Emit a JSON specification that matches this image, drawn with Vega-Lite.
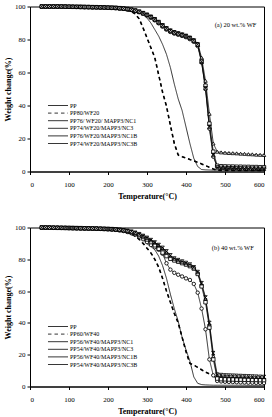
{
  "$schema": "https://vega.github.io/schema/vega-lite/v6.json",
  "padding": {"left": 4, "top": 1.5, "right": 4, "bottom": 0},
  "spacing": 21,
  "config": {
    "font": "Liberation Serif",
    "view": {"stroke": "black", "strokeWidth": 1},
    "axis": {
      "labelFont": "Liberation Serif", "labelFontSize": 7, "labelColor": "black",
      "titleFont": "Liberation Serif", "titleFontSize": 8, "titleFontWeight": "bold", "titleColor": "black",
      "domainColor": "black", "tickColor": "black", "tickSize": 3, "grid": false
    },
    "axisX": {"labelPadding": 6, "titlePadding": 5},
    "axisY": {"labelPadding": 2, "titlePadding": 2}
  },
  "datasets": {
    "wf20": [
      {"temp": 30, "PP": 100, "PP80/WF20": 100, "PP76/ WF20/ MAPP3/NC1": 100, "PP74/WF20/MAPP3/NC3": 100, "PP76/WF20/MAPP3/NC1B": 100, "PP74/WF20/MAPP3/NC3B": 100},
      {"temp": 40, "PP": 100, "PP80/WF20": 100, "PP76/ WF20/ MAPP3/NC1": 100, "PP74/WF20/MAPP3/NC3": 100, "PP76/WF20/MAPP3/NC1B": 100, "PP74/WF20/MAPP3/NC3B": 100},
      {"temp": 50, "PP": 100, "PP80/WF20": 100, "PP76/ WF20/ MAPP3/NC1": 100, "PP74/WF20/MAPP3/NC3": 100, "PP76/WF20/MAPP3/NC1B": 100, "PP74/WF20/MAPP3/NC3B": 100},
      {"temp": 60, "PP": 100, "PP80/WF20": 100, "PP76/ WF20/ MAPP3/NC1": 100, "PP74/WF20/MAPP3/NC3": 100, "PP76/WF20/MAPP3/NC1B": 100, "PP74/WF20/MAPP3/NC3B": 100},
      {"temp": 70, "PP": 100, "PP80/WF20": 100, "PP76/ WF20/ MAPP3/NC1": 100, "PP74/WF20/MAPP3/NC3": 100, "PP76/WF20/MAPP3/NC1B": 100, "PP74/WF20/MAPP3/NC3B": 100},
      {"temp": 80, "PP": 100, "PP80/WF20": 100, "PP76/ WF20/ MAPP3/NC1": 99.9, "PP74/WF20/MAPP3/NC3": 100, "PP76/WF20/MAPP3/NC1B": 100, "PP74/WF20/MAPP3/NC3B": 100},
      {"temp": 90, "PP": 100, "PP80/WF20": 100, "PP76/ WF20/ MAPP3/NC1": 99.9, "PP74/WF20/MAPP3/NC3": 100, "PP76/WF20/MAPP3/NC1B": 99.9, "PP74/WF20/MAPP3/NC3B": 100},
      {"temp": 100, "PP": 100, "PP80/WF20": 100, "PP76/ WF20/ MAPP3/NC1": 99.8, "PP74/WF20/MAPP3/NC3": 99.9, "PP76/WF20/MAPP3/NC1B": 99.9, "PP74/WF20/MAPP3/NC3B": 99.9},
      {"temp": 110, "PP": 100, "PP80/WF20": 100, "PP76/ WF20/ MAPP3/NC1": 99.8, "PP74/WF20/MAPP3/NC3": 99.9, "PP76/WF20/MAPP3/NC1B": 99.8, "PP74/WF20/MAPP3/NC3B": 99.9},
      {"temp": 120, "PP": 100, "PP80/WF20": 99.9, "PP76/ WF20/ MAPP3/NC1": 99.7, "PP74/WF20/MAPP3/NC3": 99.8, "PP76/WF20/MAPP3/NC1B": 99.8, "PP74/WF20/MAPP3/NC3B": 99.8},
      {"temp": 130, "PP": 100, "PP80/WF20": 99.9, "PP76/ WF20/ MAPP3/NC1": 99.7, "PP74/WF20/MAPP3/NC3": 99.8, "PP76/WF20/MAPP3/NC1B": 99.7, "PP74/WF20/MAPP3/NC3B": 99.8},
      {"temp": 140, "PP": 99.9, "PP80/WF20": 99.8, "PP76/ WF20/ MAPP3/NC1": 99.6, "PP74/WF20/MAPP3/NC3": 99.7, "PP76/WF20/MAPP3/NC1B": 99.7, "PP74/WF20/MAPP3/NC3B": 99.7},
      {"temp": 150, "PP": 99.9, "PP80/WF20": 99.8, "PP76/ WF20/ MAPP3/NC1": 99.6, "PP74/WF20/MAPP3/NC3": 99.7, "PP76/WF20/MAPP3/NC1B": 99.6, "PP74/WF20/MAPP3/NC3B": 99.7},
      {"temp": 160, "PP": 99.9, "PP80/WF20": 99.7, "PP76/ WF20/ MAPP3/NC1": 99.5, "PP74/WF20/MAPP3/NC3": 99.6, "PP76/WF20/MAPP3/NC1B": 99.6, "PP74/WF20/MAPP3/NC3B": 99.6},
      {"temp": 170, "PP": 99.8, "PP80/WF20": 99.7, "PP76/ WF20/ MAPP3/NC1": 99.5, "PP74/WF20/MAPP3/NC3": 99.6, "PP76/WF20/MAPP3/NC1B": 99.5, "PP74/WF20/MAPP3/NC3B": 99.6},
      {"temp": 180, "PP": 99.8, "PP80/WF20": 99.6, "PP76/ WF20/ MAPP3/NC1": 99.4, "PP74/WF20/MAPP3/NC3": 99.5, "PP76/WF20/MAPP3/NC1B": 99.5, "PP74/WF20/MAPP3/NC3B": 99.5},
      {"temp": 190, "PP": 99.8, "PP80/WF20": 99.5, "PP76/ WF20/ MAPP3/NC1": 99.3, "PP74/WF20/MAPP3/NC3": 99.5, "PP76/WF20/MAPP3/NC1B": 99.4, "PP74/WF20/MAPP3/NC3B": 99.5},
      {"temp": 200, "PP": 99.7, "PP80/WF20": 99.4, "PP76/ WF20/ MAPP3/NC1": 99.2, "PP74/WF20/MAPP3/NC3": 99.4, "PP76/WF20/MAPP3/NC1B": 99.3, "PP74/WF20/MAPP3/NC3B": 99.4},
      {"temp": 210, "PP": 99.6, "PP80/WF20": 99.2, "PP76/ WF20/ MAPP3/NC1": 99.1, "PP74/WF20/MAPP3/NC3": 99.3, "PP76/WF20/MAPP3/NC1B": 99.2, "PP74/WF20/MAPP3/NC3B": 99.3},
      {"temp": 220, "PP": 99.5, "PP80/WF20": 99, "PP76/ WF20/ MAPP3/NC1": 99, "PP74/WF20/MAPP3/NC3": 99.2, "PP76/WF20/MAPP3/NC1B": 99.1, "PP74/WF20/MAPP3/NC3B": 99.2},
      {"temp": 230, "PP": 99.4, "PP80/WF20": 98.7, "PP76/ WF20/ MAPP3/NC1": 98.8, "PP74/WF20/MAPP3/NC3": 99, "PP76/WF20/MAPP3/NC1B": 98.9, "PP74/WF20/MAPP3/NC3B": 99},
      {"temp": 240, "PP": 99.2, "PP80/WF20": 98.3, "PP76/ WF20/ MAPP3/NC1": 98.6, "PP74/WF20/MAPP3/NC3": 98.8, "PP76/WF20/MAPP3/NC1B": 98.7, "PP74/WF20/MAPP3/NC3B": 98.8},
      {"temp": 250, "PP": 99, "PP80/WF20": 97.6, "PP76/ WF20/ MAPP3/NC1": 98.3, "PP74/WF20/MAPP3/NC3": 98.5, "PP76/WF20/MAPP3/NC1B": 98.4, "PP74/WF20/MAPP3/NC3B": 98.5},
      {"temp": 260, "PP": 98.5, "PP80/WF20": 96.8, "PP76/ WF20/ MAPP3/NC1": 97.9, "PP74/WF20/MAPP3/NC3": 98.1, "PP76/WF20/MAPP3/NC1B": 98, "PP74/WF20/MAPP3/NC3B": 98.1},
      {"temp": 270, "PP": 97.8, "PP80/WF20": 95.5, "PP76/ WF20/ MAPP3/NC1": 97.3, "PP74/WF20/MAPP3/NC3": 97.6, "PP76/WF20/MAPP3/NC1B": 97.4, "PP74/WF20/MAPP3/NC3B": 97.6},
      {"temp": 280, "PP": 96.8, "PP80/WF20": 92.5, "PP76/ WF20/ MAPP3/NC1": 96.6, "PP74/WF20/MAPP3/NC3": 96.9, "PP76/WF20/MAPP3/NC1B": 96.7, "PP74/WF20/MAPP3/NC3B": 96.9},
      {"temp": 290, "PP": 95.2, "PP80/WF20": 87, "PP76/ WF20/ MAPP3/NC1": 95.7, "PP74/WF20/MAPP3/NC3": 96.1, "PP76/WF20/MAPP3/NC1B": 95.8, "PP74/WF20/MAPP3/NC3B": 96},
      {"temp": 300, "PP": 93, "PP80/WF20": 81, "PP76/ WF20/ MAPP3/NC1": 94.6, "PP74/WF20/MAPP3/NC3": 95.2, "PP76/WF20/MAPP3/NC1B": 94.8, "PP74/WF20/MAPP3/NC3B": 95},
      {"temp": 310, "PP": 90, "PP80/WF20": 75, "PP76/ WF20/ MAPP3/NC1": 93.2, "PP74/WF20/MAPP3/NC3": 94, "PP76/WF20/MAPP3/NC1B": 93.5, "PP74/WF20/MAPP3/NC3B": 93.8},
      {"temp": 320, "PP": 86, "PP80/WF20": 69, "PP76/ WF20/ MAPP3/NC1": 91.6, "PP74/WF20/MAPP3/NC3": 92.5, "PP76/WF20/MAPP3/NC1B": 92, "PP74/WF20/MAPP3/NC3B": 92.3},
      {"temp": 330, "PP": 82, "PP80/WF20": 58.5, "PP76/ WF20/ MAPP3/NC1": 89.8, "PP74/WF20/MAPP3/NC3": 90.8, "PP76/WF20/MAPP3/NC1B": 90.2, "PP74/WF20/MAPP3/NC3B": 90.6},
      {"temp": 340, "PP": 77, "PP80/WF20": 48, "PP76/ WF20/ MAPP3/NC1": 87.8, "PP74/WF20/MAPP3/NC3": 88.8, "PP76/WF20/MAPP3/NC1B": 88.2, "PP74/WF20/MAPP3/NC3B": 88.6},
      {"temp": 350, "PP": 71, "PP80/WF20": 39.5, "PP76/ WF20/ MAPP3/NC1": 86, "PP74/WF20/MAPP3/NC3": 87, "PP76/WF20/MAPP3/NC1B": 86.4, "PP74/WF20/MAPP3/NC3B": 86.8},
      {"temp": 360, "PP": 63, "PP80/WF20": 28, "PP76/ WF20/ MAPP3/NC1": 84.6, "PP74/WF20/MAPP3/NC3": 85.6, "PP76/WF20/MAPP3/NC1B": 85, "PP74/WF20/MAPP3/NC3B": 85.4},
      {"temp": 370, "PP": 53, "PP80/WF20": 17, "PP76/ WF20/ MAPP3/NC1": 83.6, "PP74/WF20/MAPP3/NC3": 84.6, "PP76/WF20/MAPP3/NC1B": 84, "PP74/WF20/MAPP3/NC3B": 84.4},
      {"temp": 380, "PP": 44, "PP80/WF20": 10, "PP76/ WF20/ MAPP3/NC1": 82.9, "PP74/WF20/MAPP3/NC3": 83.9, "PP76/WF20/MAPP3/NC1B": 83.3, "PP74/WF20/MAPP3/NC3B": 83.7},
      {"temp": 390, "PP": 37, "PP80/WF20": 9, "PP76/ WF20/ MAPP3/NC1": 82.2, "PP74/WF20/MAPP3/NC3": 83.2, "PP76/WF20/MAPP3/NC1B": 82.6, "PP74/WF20/MAPP3/NC3B": 83},
      {"temp": 400, "PP": 27, "PP80/WF20": 8.2, "PP76/ WF20/ MAPP3/NC1": 81.4, "PP74/WF20/MAPP3/NC3": 82.4, "PP76/WF20/MAPP3/NC1B": 81.8, "PP74/WF20/MAPP3/NC3B": 82.2},
      {"temp": 410, "PP": 17, "PP80/WF20": 7.3, "PP76/ WF20/ MAPP3/NC1": 80.2, "PP74/WF20/MAPP3/NC3": 81.3, "PP76/WF20/MAPP3/NC1B": 80.7, "PP74/WF20/MAPP3/NC3B": 81},
      {"temp": 420, "PP": 8, "PP80/WF20": 6.5, "PP76/ WF20/ MAPP3/NC1": 78.6, "PP74/WF20/MAPP3/NC3": 79.8, "PP76/WF20/MAPP3/NC1B": 79.1, "PP74/WF20/MAPP3/NC3B": 79.4},
      {"temp": 430, "PP": 3, "PP80/WF20": 5.6, "PP76/ WF20/ MAPP3/NC1": 76, "PP74/WF20/MAPP3/NC3": 77.6, "PP76/WF20/MAPP3/NC1B": 76.8, "PP74/WF20/MAPP3/NC3B": 77},
      {"temp": 440, "PP": 1.2, "PP80/WF20": 4.6, "PP76/ WF20/ MAPP3/NC1": 66, "PP74/WF20/MAPP3/NC3": 69, "PP76/WF20/MAPP3/NC1B": 67, "PP74/WF20/MAPP3/NC3B": 66.5},
      {"temp": 450, "PP": 1, "PP80/WF20": 3.6, "PP76/ WF20/ MAPP3/NC1": 50, "PP74/WF20/MAPP3/NC3": 55, "PP76/WF20/MAPP3/NC1B": 52, "PP74/WF20/MAPP3/NC3B": 50.5},
      {"temp": 460, "PP": 0.9, "PP80/WF20": 2.5, "PP76/ WF20/ MAPP3/NC1": 26, "PP74/WF20/MAPP3/NC3": 35, "PP76/WF20/MAPP3/NC1B": 29, "PP74/WF20/MAPP3/NC3B": 27},
      {"temp": 470, "PP": 0.8, "PP80/WF20": 1.5, "PP76/ WF20/ MAPP3/NC1": 9, "PP74/WF20/MAPP3/NC3": 17, "PP76/WF20/MAPP3/NC1B": 12, "PP74/WF20/MAPP3/NC3B": 10},
      {"temp": 480, "PP": 0.8, "PP80/WF20": 0.8, "PP76/ WF20/ MAPP3/NC1": 3, "PP74/WF20/MAPP3/NC3": 12, "PP76/WF20/MAPP3/NC1B": 3.5, "PP74/WF20/MAPP3/NC3B": 2.5},
      {"temp": 490, "PP": 0.8, "PP80/WF20": 0.7, "PP76/ WF20/ MAPP3/NC1": 2.6, "PP74/WF20/MAPP3/NC3": 11.6, "PP76/WF20/MAPP3/NC1B": 3.2, "PP74/WF20/MAPP3/NC3B": 2.2},
      {"temp": 500, "PP": 0.8, "PP80/WF20": 0.7, "PP76/ WF20/ MAPP3/NC1": 2.5, "PP74/WF20/MAPP3/NC3": 11.4, "PP76/WF20/MAPP3/NC1B": 3.1, "PP74/WF20/MAPP3/NC3B": 2.1},
      {"temp": 510, "PP": 0.8, "PP80/WF20": 0.6, "PP76/ WF20/ MAPP3/NC1": 2.4, "PP74/WF20/MAPP3/NC3": 11.2, "PP76/WF20/MAPP3/NC1B": 3, "PP74/WF20/MAPP3/NC3B": 2},
      {"temp": 520, "PP": 0.8, "PP80/WF20": 0.6, "PP76/ WF20/ MAPP3/NC1": 2.4, "PP74/WF20/MAPP3/NC3": 11.1, "PP76/WF20/MAPP3/NC1B": 3, "PP74/WF20/MAPP3/NC3B": 2},
      {"temp": 530, "PP": 0.8, "PP80/WF20": 0.6, "PP76/ WF20/ MAPP3/NC1": 2.3, "PP74/WF20/MAPP3/NC3": 11, "PP76/WF20/MAPP3/NC1B": 2.9, "PP74/WF20/MAPP3/NC3B": 1.9},
      {"temp": 540, "PP": 0.8, "PP80/WF20": 0.6, "PP76/ WF20/ MAPP3/NC1": 2.3, "PP74/WF20/MAPP3/NC3": 10.8, "PP76/WF20/MAPP3/NC1B": 2.9, "PP74/WF20/MAPP3/NC3B": 1.9},
      {"temp": 550, "PP": 0.8, "PP80/WF20": 0.6, "PP76/ WF20/ MAPP3/NC1": 2.2, "PP74/WF20/MAPP3/NC3": 10.7, "PP76/WF20/MAPP3/NC1B": 2.8, "PP74/WF20/MAPP3/NC3B": 1.8},
      {"temp": 560, "PP": 0.8, "PP80/WF20": 0.6, "PP76/ WF20/ MAPP3/NC1": 2.2, "PP74/WF20/MAPP3/NC3": 10.5, "PP76/WF20/MAPP3/NC1B": 2.8, "PP74/WF20/MAPP3/NC3B": 1.8},
      {"temp": 570, "PP": 0.8, "PP80/WF20": 0.6, "PP76/ WF20/ MAPP3/NC1": 2.1, "PP74/WF20/MAPP3/NC3": 10.4, "PP76/WF20/MAPP3/NC1B": 2.7, "PP74/WF20/MAPP3/NC3B": 1.7},
      {"temp": 580, "PP": 0.8, "PP80/WF20": 0.6, "PP76/ WF20/ MAPP3/NC1": 2.1, "PP74/WF20/MAPP3/NC3": 10.2, "PP76/WF20/MAPP3/NC1B": 2.7, "PP74/WF20/MAPP3/NC3B": 1.7},
      {"temp": 590, "PP": 0.8, "PP80/WF20": 0.6, "PP76/ WF20/ MAPP3/NC1": 2, "PP74/WF20/MAPP3/NC3": 10.1, "PP76/WF20/MAPP3/NC1B": 2.6, "PP74/WF20/MAPP3/NC3B": 1.6},
      {"temp": 600, "PP": 0.8, "PP80/WF20": 0.6, "PP76/ WF20/ MAPP3/NC1": 2, "PP74/WF20/MAPP3/NC3": 10, "PP76/WF20/MAPP3/NC1B": 2.6, "PP74/WF20/MAPP3/NC3B": 1.6}
    ],
    "wf40": [
      {"temp": 30, "PP": 100, "PP60/WF40": 100, "PP56/WF40/MAPP3/NC1": 100, "PP54/WF40/MAPP3/NC3": 100, "PP56/WF40/MAPP3/NC1B": 100, "PP54/WF40/MAPP3/NC3B": 100},
      {"temp": 40, "PP": 100, "PP60/WF40": 100, "PP56/WF40/MAPP3/NC1": 99.9, "PP54/WF40/MAPP3/NC3": 100, "PP56/WF40/MAPP3/NC1B": 100, "PP54/WF40/MAPP3/NC3B": 100},
      {"temp": 50, "PP": 100, "PP60/WF40": 99.9, "PP56/WF40/MAPP3/NC1": 99.9, "PP54/WF40/MAPP3/NC3": 99.9, "PP56/WF40/MAPP3/NC1B": 99.9, "PP54/WF40/MAPP3/NC3B": 100},
      {"temp": 60, "PP": 100, "PP60/WF40": 99.9, "PP56/WF40/MAPP3/NC1": 99.8, "PP54/WF40/MAPP3/NC3": 99.9, "PP56/WF40/MAPP3/NC1B": 99.9, "PP54/WF40/MAPP3/NC3B": 99.9},
      {"temp": 70, "PP": 100, "PP60/WF40": 99.8, "PP56/WF40/MAPP3/NC1": 99.8, "PP54/WF40/MAPP3/NC3": 99.8, "PP56/WF40/MAPP3/NC1B": 99.8, "PP54/WF40/MAPP3/NC3B": 99.9},
      {"temp": 80, "PP": 99.9, "PP60/WF40": 99.8, "PP56/WF40/MAPP3/NC1": 99.7, "PP54/WF40/MAPP3/NC3": 99.8, "PP56/WF40/MAPP3/NC1B": 99.8, "PP54/WF40/MAPP3/NC3B": 99.8},
      {"temp": 90, "PP": 99.9, "PP60/WF40": 99.7, "PP56/WF40/MAPP3/NC1": 99.7, "PP54/WF40/MAPP3/NC3": 99.7, "PP56/WF40/MAPP3/NC1B": 99.7, "PP54/WF40/MAPP3/NC3B": 99.8},
      {"temp": 100, "PP": 99.9, "PP60/WF40": 99.7, "PP56/WF40/MAPP3/NC1": 99.6, "PP54/WF40/MAPP3/NC3": 99.7, "PP56/WF40/MAPP3/NC1B": 99.7, "PP54/WF40/MAPP3/NC3B": 99.7},
      {"temp": 110, "PP": 99.9, "PP60/WF40": 99.6, "PP56/WF40/MAPP3/NC1": 99.6, "PP54/WF40/MAPP3/NC3": 99.6, "PP56/WF40/MAPP3/NC1B": 99.6, "PP54/WF40/MAPP3/NC3B": 99.7},
      {"temp": 120, "PP": 99.8, "PP60/WF40": 99.6, "PP56/WF40/MAPP3/NC1": 99.5, "PP54/WF40/MAPP3/NC3": 99.6, "PP56/WF40/MAPP3/NC1B": 99.6, "PP54/WF40/MAPP3/NC3B": 99.6},
      {"temp": 130, "PP": 99.8, "PP60/WF40": 99.5, "PP56/WF40/MAPP3/NC1": 99.5, "PP54/WF40/MAPP3/NC3": 99.5, "PP56/WF40/MAPP3/NC1B": 99.5, "PP54/WF40/MAPP3/NC3B": 99.6},
      {"temp": 140, "PP": 99.8, "PP60/WF40": 99.5, "PP56/WF40/MAPP3/NC1": 99.4, "PP54/WF40/MAPP3/NC3": 99.5, "PP56/WF40/MAPP3/NC1B": 99.5, "PP54/WF40/MAPP3/NC3B": 99.5},
      {"temp": 150, "PP": 99.7, "PP60/WF40": 99.4, "PP56/WF40/MAPP3/NC1": 99.4, "PP54/WF40/MAPP3/NC3": 99.4, "PP56/WF40/MAPP3/NC1B": 99.4, "PP54/WF40/MAPP3/NC3B": 99.5},
      {"temp": 160, "PP": 99.7, "PP60/WF40": 99.3, "PP56/WF40/MAPP3/NC1": 99.3, "PP54/WF40/MAPP3/NC3": 99.4, "PP56/WF40/MAPP3/NC1B": 99.4, "PP54/WF40/MAPP3/NC3B": 99.4},
      {"temp": 170, "PP": 99.6, "PP60/WF40": 99.2, "PP56/WF40/MAPP3/NC1": 99.2, "PP54/WF40/MAPP3/NC3": 99.3, "PP56/WF40/MAPP3/NC1B": 99.3, "PP54/WF40/MAPP3/NC3B": 99.4},
      {"temp": 180, "PP": 99.6, "PP60/WF40": 99.1, "PP56/WF40/MAPP3/NC1": 99.1, "PP54/WF40/MAPP3/NC3": 99.3, "PP56/WF40/MAPP3/NC1B": 99.2, "PP54/WF40/MAPP3/NC3B": 99.3},
      {"temp": 190, "PP": 99.5, "PP60/WF40": 99, "PP56/WF40/MAPP3/NC1": 99, "PP54/WF40/MAPP3/NC3": 99.2, "PP56/WF40/MAPP3/NC1B": 99.1, "PP54/WF40/MAPP3/NC3B": 99.2},
      {"temp": 200, "PP": 99.4, "PP60/WF40": 98.8, "PP56/WF40/MAPP3/NC1": 98.9, "PP54/WF40/MAPP3/NC3": 99.1, "PP56/WF40/MAPP3/NC1B": 99, "PP54/WF40/MAPP3/NC3B": 99.1},
      {"temp": 210, "PP": 99.3, "PP60/WF40": 98.6, "PP56/WF40/MAPP3/NC1": 98.7, "PP54/WF40/MAPP3/NC3": 99, "PP56/WF40/MAPP3/NC1B": 98.9, "PP54/WF40/MAPP3/NC3B": 99},
      {"temp": 220, "PP": 99.1, "PP60/WF40": 98.3, "PP56/WF40/MAPP3/NC1": 98.5, "PP54/WF40/MAPP3/NC3": 98.8, "PP56/WF40/MAPP3/NC1B": 98.7, "PP54/WF40/MAPP3/NC3B": 98.8},
      {"temp": 230, "PP": 98.9, "PP60/WF40": 97.9, "PP56/WF40/MAPP3/NC1": 98.2, "PP54/WF40/MAPP3/NC3": 98.6, "PP56/WF40/MAPP3/NC1B": 98.4, "PP54/WF40/MAPP3/NC3B": 98.6},
      {"temp": 240, "PP": 98.6, "PP60/WF40": 97.4, "PP56/WF40/MAPP3/NC1": 97.8, "PP54/WF40/MAPP3/NC3": 98.3, "PP56/WF40/MAPP3/NC1B": 98.1, "PP54/WF40/MAPP3/NC3B": 98.3},
      {"temp": 250, "PP": 98.2, "PP60/WF40": 96.7, "PP56/WF40/MAPP3/NC1": 97.2, "PP54/WF40/MAPP3/NC3": 97.9, "PP56/WF40/MAPP3/NC1B": 97.6, "PP54/WF40/MAPP3/NC3B": 97.9},
      {"temp": 260, "PP": 97.4, "PP60/WF40": 95.8, "PP56/WF40/MAPP3/NC1": 96.4, "PP54/WF40/MAPP3/NC3": 97.3, "PP56/WF40/MAPP3/NC1B": 97, "PP54/WF40/MAPP3/NC3B": 97.4},
      {"temp": 270, "PP": 96.2, "PP60/WF40": 94.5, "PP56/WF40/MAPP3/NC1": 95.4, "PP54/WF40/MAPP3/NC3": 96.6, "PP56/WF40/MAPP3/NC1B": 96.2, "PP54/WF40/MAPP3/NC3B": 96.7},
      {"temp": 280, "PP": 94.6, "PP60/WF40": 92.5, "PP56/WF40/MAPP3/NC1": 94.2, "PP54/WF40/MAPP3/NC3": 95.7, "PP56/WF40/MAPP3/NC1B": 95.2, "PP54/WF40/MAPP3/NC3B": 95.8},
      {"temp": 290, "PP": 92.4, "PP60/WF40": 90, "PP56/WF40/MAPP3/NC1": 92.6, "PP54/WF40/MAPP3/NC3": 94.6, "PP56/WF40/MAPP3/NC1B": 94, "PP54/WF40/MAPP3/NC3B": 94.7},
      {"temp": 300, "PP": 89.8, "PP60/WF40": 87, "PP56/WF40/MAPP3/NC1": 90.8, "PP54/WF40/MAPP3/NC3": 93.4, "PP56/WF40/MAPP3/NC1B": 92.5, "PP54/WF40/MAPP3/NC3B": 93.5},
      {"temp": 310, "PP": 88, "PP60/WF40": 84, "PP56/WF40/MAPP3/NC1": 89, "PP54/WF40/MAPP3/NC3": 92, "PP56/WF40/MAPP3/NC1B": 90.8, "PP54/WF40/MAPP3/NC3B": 92.1},
      {"temp": 320, "PP": 86, "PP60/WF40": 80, "PP56/WF40/MAPP3/NC1": 87.6, "PP54/WF40/MAPP3/NC3": 90.4, "PP56/WF40/MAPP3/NC1B": 88.8, "PP54/WF40/MAPP3/NC3B": 90.6},
      {"temp": 330, "PP": 82, "PP60/WF40": 75, "PP56/WF40/MAPP3/NC1": 86, "PP54/WF40/MAPP3/NC3": 88.8, "PP56/WF40/MAPP3/NC1B": 86.6, "PP54/WF40/MAPP3/NC3B": 89},
      {"temp": 340, "PP": 76, "PP60/WF40": 68, "PP56/WF40/MAPP3/NC1": 83.5, "PP54/WF40/MAPP3/NC3": 86.8, "PP56/WF40/MAPP3/NC1B": 84.2, "PP54/WF40/MAPP3/NC3B": 87.2},
      {"temp": 350, "PP": 68, "PP60/WF40": 60, "PP56/WF40/MAPP3/NC1": 77.5, "PP54/WF40/MAPP3/NC3": 84.3, "PP56/WF40/MAPP3/NC1B": 82, "PP54/WF40/MAPP3/NC3B": 85},
      {"temp": 360, "PP": 58, "PP60/WF40": 53, "PP56/WF40/MAPP3/NC1": 73.5, "PP54/WF40/MAPP3/NC3": 81.5, "PP56/WF40/MAPP3/NC1B": 80.3, "PP54/WF40/MAPP3/NC3B": 82.5},
      {"temp": 370, "PP": 49, "PP60/WF40": 46, "PP56/WF40/MAPP3/NC1": 71.5, "PP54/WF40/MAPP3/NC3": 80, "PP56/WF40/MAPP3/NC1B": 79.3, "PP54/WF40/MAPP3/NC3B": 80.5},
      {"temp": 380, "PP": 41, "PP60/WF40": 40, "PP56/WF40/MAPP3/NC1": 70.3, "PP54/WF40/MAPP3/NC3": 79, "PP56/WF40/MAPP3/NC1B": 78.5, "PP54/WF40/MAPP3/NC3B": 79.5},
      {"temp": 390, "PP": 31, "PP60/WF40": 31, "PP56/WF40/MAPP3/NC1": 69.2, "PP54/WF40/MAPP3/NC3": 78, "PP56/WF40/MAPP3/NC1B": 77.6, "PP54/WF40/MAPP3/NC3B": 78.6},
      {"temp": 400, "PP": 23, "PP60/WF40": 22, "PP56/WF40/MAPP3/NC1": 68, "PP54/WF40/MAPP3/NC3": 77, "PP56/WF40/MAPP3/NC1B": 76.7, "PP54/WF40/MAPP3/NC3B": 77.7},
      {"temp": 410, "PP": 16, "PP60/WF40": 14.5, "PP56/WF40/MAPP3/NC1": 67, "PP54/WF40/MAPP3/NC3": 76, "PP56/WF40/MAPP3/NC1B": 75.7, "PP54/WF40/MAPP3/NC3B": 76.7},
      {"temp": 420, "PP": 6, "PP60/WF40": 13.5, "PP56/WF40/MAPP3/NC1": 64.5, "PP54/WF40/MAPP3/NC3": 74.5, "PP56/WF40/MAPP3/NC1B": 74.2, "PP54/WF40/MAPP3/NC3B": 75},
      {"temp": 430, "PP": 2, "PP60/WF40": 12, "PP56/WF40/MAPP3/NC1": 59, "PP54/WF40/MAPP3/NC3": 71.5, "PP56/WF40/MAPP3/NC1B": 70.8, "PP54/WF40/MAPP3/NC3B": 72},
      {"temp": 440, "PP": 1.2, "PP60/WF40": 10.5, "PP56/WF40/MAPP3/NC1": 49, "PP54/WF40/MAPP3/NC3": 64, "PP56/WF40/MAPP3/NC1B": 63, "PP54/WF40/MAPP3/NC3B": 65},
      {"temp": 450, "PP": 1, "PP60/WF40": 9, "PP56/WF40/MAPP3/NC1": 36, "PP54/WF40/MAPP3/NC3": 55, "PP56/WF40/MAPP3/NC1B": 53, "PP54/WF40/MAPP3/NC3B": 56},
      {"temp": 460, "PP": 0.9, "PP60/WF40": 8, "PP56/WF40/MAPP3/NC1": 17, "PP54/WF40/MAPP3/NC3": 39, "PP56/WF40/MAPP3/NC1B": 37, "PP54/WF40/MAPP3/NC3B": 40},
      {"temp": 470, "PP": 0.8, "PP60/WF40": 6.8, "PP56/WF40/MAPP3/NC1": 7, "PP54/WF40/MAPP3/NC3": 19, "PP56/WF40/MAPP3/NC1B": 17, "PP54/WF40/MAPP3/NC3B": 21},
      {"temp": 480, "PP": 0.8, "PP60/WF40": 5.8, "PP56/WF40/MAPP3/NC1": 3.5, "PP54/WF40/MAPP3/NC3": 6, "PP56/WF40/MAPP3/NC1B": 5, "PP54/WF40/MAPP3/NC3B": 7.5},
      {"temp": 490, "PP": 0.8, "PP60/WF40": 5.2, "PP56/WF40/MAPP3/NC1": 3.2, "PP54/WF40/MAPP3/NC3": 5.6, "PP56/WF40/MAPP3/NC1B": 4.6, "PP54/WF40/MAPP3/NC3B": 7.2},
      {"temp": 500, "PP": 0.8, "PP60/WF40": 4.8, "PP56/WF40/MAPP3/NC1": 3, "PP54/WF40/MAPP3/NC3": 5.5, "PP56/WF40/MAPP3/NC1B": 4.5, "PP54/WF40/MAPP3/NC3B": 7},
      {"temp": 510, "PP": 0.8, "PP60/WF40": 4.5, "PP56/WF40/MAPP3/NC1": 2.9, "PP54/WF40/MAPP3/NC3": 5.4, "PP56/WF40/MAPP3/NC1B": 4.4, "PP54/WF40/MAPP3/NC3B": 6.9},
      {"temp": 520, "PP": 0.8, "PP60/WF40": 4.3, "PP56/WF40/MAPP3/NC1": 2.8, "PP54/WF40/MAPP3/NC3": 5.3, "PP56/WF40/MAPP3/NC1B": 4.4, "PP54/WF40/MAPP3/NC3B": 6.8},
      {"temp": 530, "PP": 0.8, "PP60/WF40": 4.1, "PP56/WF40/MAPP3/NC1": 2.7, "PP54/WF40/MAPP3/NC3": 5.2, "PP56/WF40/MAPP3/NC1B": 4.3, "PP54/WF40/MAPP3/NC3B": 6.7},
      {"temp": 540, "PP": 0.8, "PP60/WF40": 4, "PP56/WF40/MAPP3/NC1": 2.6, "PP54/WF40/MAPP3/NC3": 5.1, "PP56/WF40/MAPP3/NC1B": 4.3, "PP54/WF40/MAPP3/NC3B": 6.6},
      {"temp": 550, "PP": 0.8, "PP60/WF40": 3.9, "PP56/WF40/MAPP3/NC1": 2.5, "PP54/WF40/MAPP3/NC3": 5.1, "PP56/WF40/MAPP3/NC1B": 4.2, "PP54/WF40/MAPP3/NC3B": 6.5},
      {"temp": 560, "PP": 0.7, "PP60/WF40": 3.8, "PP56/WF40/MAPP3/NC1": 2.4, "PP54/WF40/MAPP3/NC3": 5, "PP56/WF40/MAPP3/NC1B": 4.2, "PP54/WF40/MAPP3/NC3B": 6.4},
      {"temp": 570, "PP": 0.7, "PP60/WF40": 3.7, "PP56/WF40/MAPP3/NC1": 2.4, "PP54/WF40/MAPP3/NC3": 4.9, "PP56/WF40/MAPP3/NC1B": 4.1, "PP54/WF40/MAPP3/NC3B": 6.3},
      {"temp": 580, "PP": 0.7, "PP60/WF40": 3.6, "PP56/WF40/MAPP3/NC1": 2.3, "PP54/WF40/MAPP3/NC3": 4.9, "PP56/WF40/MAPP3/NC1B": 4.1, "PP54/WF40/MAPP3/NC3B": 6.2},
      {"temp": 590, "PP": 0.7, "PP60/WF40": 3.6, "PP56/WF40/MAPP3/NC1": 2.3, "PP54/WF40/MAPP3/NC3": 4.8, "PP56/WF40/MAPP3/NC1B": 4, "PP54/WF40/MAPP3/NC3B": 6.1},
      {"temp": 600, "PP": 0.7, "PP60/WF40": 3.5, "PP56/WF40/MAPP3/NC1": 2.2, "PP54/WF40/MAPP3/NC3": 4.8, "PP56/WF40/MAPP3/NC1B": 4, "PP54/WF40/MAPP3/NC3B": 6}
    ]
  },
  "vconcat": [
    {
      "width": 234,
      "height": 165,
      "data": {"name": "wf20"},
      "transform": [
        {"fold": ["PP", "PP80/WF20", "PP76/ WF20/ MAPP3/NC1", "PP74/WF20/MAPP3/NC3", "PP76/WF20/MAPP3/NC1B", "PP74/WF20/MAPP3/NC3B"], "as": ["series", "weight"]}
      ],
      "encoding": {
        "x": {"field": "temp", "type": "quantitative", "scale": {"domain": [0, 600], "nice": false},
              "axis": {"values": [0, 100, 200, 300, 400, 500, 600], "title": "Temperature(\u00b0C)"}},
        "y": {"field": "weight", "type": "quantitative", "scale": {"domain": [0, 100], "nice": false},
              "axis": {"values": [0, 20, 40, 60, 80, 100], "title": "Weight change(%)"}}
      },
      "layer": [
        {
          "mark": {"type": "line", "color": "black", "strokeWidth": 0.8},
          "encoding": {
            "strokeDash": {"field": "series", "type": "nominal",
              "scale": {"domain": ["PP", "PP80/WF20", "PP76/ WF20/ MAPP3/NC1", "PP74/WF20/MAPP3/NC3", "PP76/WF20/MAPP3/NC1B", "PP74/WF20/MAPP3/NC3B"],
                        "range": [[1, 0], [3.5, 3], [1, 0], [1, 0], [1, 0], [1, 0]]},
              "legend": {
                "orient": "none", "legendX": 24, "legendY": 95, "title": null, "padding": 0,
                "symbolSize": 49, "symbolType": "M-2.86,0H2.86", "symbolStrokeWidth": 0.8, "symbolStrokeColor": "black",
                "labelFontSize": 6, "labelFont": "Liberation Serif", "labelColor": "black",
                "labelOffset": 8, "rowPadding": 0.6
              }
            }
          }
        },
        {
          "transform": [{"filter": {"field": "series", "equal": "PP80/WF20"}}],
          "mark": {"type": "line", "color": "black", "strokeWidth": 1.6, "strokeDash": [3.5, 3]},
          "encoding": {"detail": {"field": "series"}}
        },
        {
          "transform": [{"filter": {"not": {"field": "series", "oneOf": ["PP", "PP80/WF20"]}}}],
          "mark": {"type": "point", "filled": false, "fill": "white", "stroke": "black", "strokeWidth": 0.85, "size": 12, "opacity": 1},
          "encoding": {
            "shape": {"field": "series", "type": "nominal", "legend": null,
              "scale": {"domain": ["PP76/ WF20/ MAPP3/NC1", "PP74/WF20/MAPP3/NC3", "PP76/WF20/MAPP3/NC1B", "PP74/WF20/MAPP3/NC3B"],
                        "range": ["circle", "triangle-up", "square", "M-1,-1L1,1M-1,1L1,-1M-1,-1H1M-1,1H1"]}}
          }
        },
        {
          "data": {"values": [{"temp": 527, "weight": 89, "label": "(a) 20 wt.% WF"}]},
          "mark": {"type": "text", "font": "Liberation Serif", "fontSize": 6.5, "color": "black"},
          "encoding": {"text": {"field": "label"}}
        }
      ]
    },
    {
      "width": 234,
      "height": 159,
      "data": {"name": "wf40"},
      "transform": [
        {"fold": ["PP", "PP60/WF40", "PP56/WF40/MAPP3/NC1", "PP54/WF40/MAPP3/NC3", "PP56/WF40/MAPP3/NC1B", "PP54/WF40/MAPP3/NC3B"], "as": ["series", "weight"]}
      ],
      "encoding": {
        "x": {"field": "temp", "type": "quantitative", "scale": {"domain": [0, 600], "nice": false},
              "axis": {"values": [0, 100, 200, 300, 400, 500, 600], "title": "Temperature(\u00b0C)"}},
        "y": {"field": "weight", "type": "quantitative", "scale": {"domain": [0, 100], "nice": false},
              "axis": {"values": [0, 20, 40, 60, 80, 100], "title": "Weight change(%)"}}
      },
      "layer": [
        {
          "mark": {"type": "line", "color": "black", "strokeWidth": 0.8},
          "encoding": {
            "strokeDash": {"field": "series", "type": "nominal",
              "scale": {"domain": ["PP", "PP60/WF40", "PP56/WF40/MAPP3/NC1", "PP54/WF40/MAPP3/NC3", "PP56/WF40/MAPP3/NC1B", "PP54/WF40/MAPP3/NC3B"],
                        "range": [[1, 0], [3.5, 3], [1, 0], [1, 0], [1, 0], [1, 0]]},
              "legend": {
                "orient": "none", "legendX": 24, "legendY": 95, "title": null, "padding": 0,
                "symbolSize": 49, "symbolType": "M-2.86,0H2.86", "symbolStrokeWidth": 0.8, "symbolStrokeColor": "black",
                "labelFontSize": 6, "labelFont": "Liberation Serif", "labelColor": "black",
                "labelOffset": 8, "rowPadding": 0.6
              }
            }
          }
        },
        {
          "transform": [{"filter": {"field": "series", "equal": "PP60/WF40"}}],
          "mark": {"type": "line", "color": "black", "strokeWidth": 1.6, "strokeDash": [3.5, 3]},
          "encoding": {"detail": {"field": "series"}}
        },
        {
          "transform": [{"filter": {"not": {"field": "series", "oneOf": ["PP", "PP60/WF40"]}}}],
          "mark": {"type": "point", "filled": false, "fill": "white", "stroke": "black", "strokeWidth": 0.85, "size": 12, "opacity": 1},
          "encoding": {
            "shape": {"field": "series", "type": "nominal", "legend": null,
              "scale": {"domain": ["PP56/WF40/MAPP3/NC1", "PP54/WF40/MAPP3/NC3", "PP56/WF40/MAPP3/NC1B", "PP54/WF40/MAPP3/NC3B"],
                        "range": ["circle", "triangle-up", "square", "M-1,-1L1,1M-1,1L1,-1M-1,-1H1M-1,1H1"]}}
          }
        },
        {
          "data": {"values": [{"temp": 520, "weight": 87, "label": "(b) 40 wt.% WF"}]},
          "mark": {"type": "text", "font": "Liberation Serif", "fontSize": 6.5, "color": "black"},
          "encoding": {"text": {"field": "label"}}
        }
      ]
    }
  ],
  "resolve": {"scale": {"shape": "independent", "strokeDash": "independent"}}
}
